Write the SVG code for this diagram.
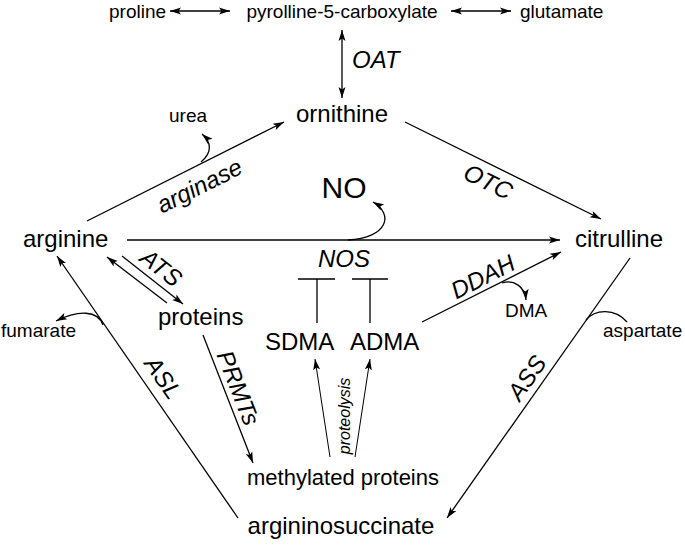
<svg xmlns="http://www.w3.org/2000/svg" width="685" height="546" viewBox="0 0 685 546">
<style>
text{font-family:"Liberation Sans",Arial,Helvetica,sans-serif;fill:#000}
.main{font-size:24px}
.sec{font-size:19px}
.enz{font-size:24px;font-style:italic}
.no{font-size:30px}
.prot{font-size:16px;font-style:italic}
.ln{stroke:#000;stroke-width:1.3;fill:none}
.thin{stroke-width:1}
.arr{marker-end:url(#ah)}
.dbl{marker-start:url(#ah);marker-end:url(#ah)}
</style>
<defs>
<marker id="ah" markerUnits="userSpaceOnUse" markerWidth="12" markerHeight="8" refX="11" refY="3.5" orient="auto-start-reverse" viewBox="0 0 12 7">
<path d="M0,0 L11,3.5 L0,7 L2.5,3.5 z" fill="#000"/>
</marker>
</defs>
<rect width="685" height="546" fill="#fff"/>
<g id="connectors">
<line class="ln dbl" x1="170" y1="11" x2="230" y2="11"/>
<line class="ln dbl" x1="451" y1="11" x2="511" y2="11"/>
<line class="ln dbl" x1="342" y1="30" x2="342" y2="98"/>
<line class="ln arr" x1="87" y1="221" x2="284" y2="122"/>
<path class="ln arr" d="M201,162 C213,152 211,142 202,134"/>
<line class="ln arr" x1="405" y1="122" x2="601" y2="219"/>
<line class="ln arr" x1="127" y1="240" x2="560" y2="240"/>
<path class="ln arr" d="M348,240 C388,238 394,214 373,202"/>
<path class="ln" d="M298,279 H335 M317,279 V323 M352,279 H388 M370,279 V323"/>
<line class="ln arr" x1="422" y1="322" x2="561" y2="252"/>
<path class="ln arr" d="M502,283 C514,279 525,287 526,300"/>
<line class="ln arr" x1="630" y1="258" x2="447" y2="518"/>
<path class="ln" d="M586,320 C595,309 615,308 627,322"/>
<line class="ln arr" x1="238" y1="518" x2="57" y2="256"/>
<path class="ln arr" d="M103,325 C98,310 78,310 56,321"/>
<line class="ln arr" x1="167" y1="303" x2="107" y2="257"/>
<line class="ln arr" x1="122" y1="256" x2="183" y2="304"/>
<line class="ln arr" x1="203" y1="335" x2="253" y2="463"/>
<line class="ln thin arr" x1="330" y1="457" x2="315" y2="359"/>
<line class="ln thin arr" x1="355" y1="457" x2="370" y2="359"/>
</g>
<g id="proline"><text class="sec" x="109" y="18">proline</text></g>
<g id="p5c"><text class="sec" x="342" y="18" text-anchor="middle">pyrolline-5-carboxylate</text></g>
<g id="glutamate"><text class="sec" x="520" y="18">glutamate</text></g>
<g id="ornithine"><text class="main" x="342" y="122" text-anchor="middle">ornithine</text></g>
<g id="urea"><text class="sec" x="169" y="122">urea</text></g>
<g id="NO"><text class="no" x="344" y="198" text-anchor="middle">NO</text></g>
<g id="arginine"><text class="main" x="23" y="247">arginine</text></g>
<g id="citrulline"><text class="main" x="575" y="247">citrulline</text></g>
<g id="proteins"><text class="main" x="158" y="325">proteins</text></g>
<g id="SDMA"><text class="main" x="265" y="350">SDMA</text></g>
<g id="ADMA"><text class="main" x="350" y="350">ADMA</text></g>
<g id="DMA"><text class="sec" x="505" y="317">DMA</text></g>
<g id="fumarate"><text class="sec" x="1" y="337">fumarate</text></g>
<g id="aspartate"><text class="sec" x="603" y="337">aspartate</text></g>
<g id="methylated-proteins"><text class="main" style="font-size:22px" x="343" y="485" text-anchor="middle">methylated proteins</text></g>
<g id="argininosuccinate"><text class="main" x="341" y="534" text-anchor="middle">argininosuccinate</text></g>
<g id="labels">
<text class="enz" x="352" y="68">OAT</text>
<text class="enz" text-anchor="middle" transform="translate(200,187) rotate(-26.6)" y="7">arginase</text>
<text class="enz" text-anchor="middle" transform="translate(488,182) rotate(26.2)" y="8">OTC</text>
<text class="enz" x="344" y="267" text-anchor="middle">NOS</text>
<text class="enz" text-anchor="middle" transform="translate(483,277) rotate(-27)" y="8">DDAH</text>
<text class="enz" text-anchor="middle" transform="translate(161,268) rotate(38)" y="8">ATS</text>
<text class="enz" text-anchor="middle" transform="translate(238,388) rotate(68.5)" y="8">PRMTs</text>
<text class="enz" text-anchor="middle" transform="translate(163,378) rotate(55.4)" y="8">ASL</text>
<text class="enz" text-anchor="middle" transform="translate(527,378) rotate(-54.9)" y="8">ASS</text>
<text class="prot" text-anchor="middle" transform="translate(345,416) rotate(-90)" y="5">proteolysis</text>
</g>
</svg>
